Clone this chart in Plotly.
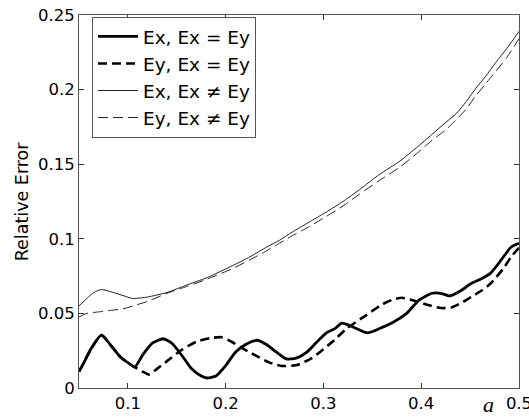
import plotly.graph_objects as go

# Ex, Ex = Ey
x_ex_eq = [0.05, 0.055, 0.062, 0.073, 0.082, 0.092, 0.1, 0.107, 0.115, 0.125, 0.136, 0.145,
           0.155, 0.165, 0.175, 0.181, 0.19, 0.2, 0.21, 0.22, 0.232, 0.242, 0.252, 0.262,
           0.272, 0.283, 0.292, 0.303, 0.312, 0.319, 0.33, 0.345, 0.358, 0.37, 0.385, 0.398,
           0.411, 0.42, 0.429, 0.44, 0.451, 0.461, 0.471, 0.482, 0.492, 0.5]
y_ex_eq = [0.011, 0.017, 0.026, 0.0355, 0.029, 0.021, 0.017, 0.014, 0.022, 0.03, 0.033, 0.03,
           0.022, 0.013, 0.008, 0.0067, 0.008, 0.015, 0.024, 0.029, 0.032, 0.029, 0.024, 0.0195,
           0.02, 0.024, 0.03, 0.037, 0.04, 0.0435, 0.041, 0.037, 0.04, 0.0435, 0.05, 0.059,
           0.0635, 0.0635, 0.0617, 0.065, 0.07, 0.073, 0.077, 0.086, 0.0945, 0.097]

# Ey, Ex = Ey
x_ey_eq = [0.05, 0.055, 0.062, 0.073, 0.082, 0.092, 0.1, 0.107, 0.115, 0.122, 0.13, 0.14,
           0.155, 0.17, 0.185, 0.196, 0.206, 0.216, 0.23, 0.245, 0.257, 0.273, 0.288, 0.3,
           0.311, 0.324, 0.342, 0.359, 0.37, 0.38, 0.393, 0.405, 0.42, 0.431, 0.441, 0.451,
           0.461, 0.471, 0.485, 0.492, 0.5]
y_ey_eq = [0.011, 0.017, 0.026, 0.0355, 0.029, 0.021, 0.017, 0.014, 0.011, 0.009, 0.013, 0.018,
           0.0255, 0.031, 0.0335, 0.034, 0.031, 0.027, 0.022, 0.017, 0.0148, 0.0154, 0.02, 0.026,
           0.032, 0.04, 0.048, 0.0556, 0.059, 0.0605, 0.0585, 0.056, 0.0536, 0.054, 0.057, 0.061,
           0.065, 0.07, 0.081, 0.088, 0.094]

# Ex, Ex != Ey
x_ex_ne = [0.05, 0.058, 0.065, 0.073, 0.085, 0.095, 0.105, 0.12, 0.14, 0.16, 0.181, 0.207,
           0.225, 0.242, 0.255, 0.268, 0.285, 0.303, 0.32, 0.337, 0.357, 0.378, 0.395, 0.411,
           0.425, 0.436, 0.446, 0.456, 0.466, 0.476, 0.488, 0.5]
y_ex_ne = [0.055, 0.06, 0.064, 0.066, 0.064, 0.062, 0.06, 0.061, 0.064, 0.069, 0.074, 0.082,
           0.088, 0.0945, 0.099, 0.1045, 0.111, 0.118, 0.125, 0.133, 0.143, 0.152, 0.161, 0.17,
           0.178, 0.184, 0.192, 0.201, 0.209, 0.218, 0.228, 0.239]

# Ey, Ex != Ey
x_ey_ne = [0.05, 0.058, 0.07, 0.082, 0.095, 0.105, 0.12, 0.14, 0.16, 0.181, 0.207, 0.225,
           0.242, 0.255, 0.268, 0.285, 0.303, 0.32, 0.337, 0.357, 0.378, 0.395, 0.411, 0.425,
           0.436, 0.446, 0.456, 0.466, 0.476, 0.488, 0.5]
y_ey_ne = [0.0476, 0.05, 0.051, 0.052, 0.053, 0.055, 0.058, 0.0635, 0.068, 0.073, 0.08, 0.086,
           0.092, 0.097, 0.102, 0.108, 0.115, 0.122, 0.13, 0.139, 0.148, 0.157, 0.166, 0.173,
           0.18, 0.187, 0.196, 0.204, 0.212, 0.222, 0.234]

x_ticks = [0.1, 0.2, 0.3, 0.4, 0.5]
x_ticklabels = ["0.1", "0.2", "0.3", "0.4", "0.5"]
y_ticks = [0, 0.05, 0.1, 0.15, 0.2, 0.25]
y_ticklabels = ["0", "0.05", "0.1", "0.15", "0.2", "0.25"]

FONT = "DejaVu Sans"

fig = go.Figure()
fig.add_trace(go.Scatter(x=x_ex_eq, y=y_ex_eq, mode="lines", name="Ex, Ex = Ey",
                         line=dict(color="black", width=2.8, shape="spline", smoothing=0.6)))
fig.add_trace(go.Scatter(x=x_ey_eq, y=y_ey_eq, mode="lines", name="Ey, Ex = Ey",
                         line=dict(color="black", width=2.6, dash="9px,5px", shape="spline", smoothing=0.6)))
fig.add_trace(go.Scatter(x=x_ex_ne, y=y_ex_ne, mode="lines", name="Ex, Ex \u2260 Ey",
                         line=dict(color="#222222", width=1, shape="spline", smoothing=0.6)))
fig.add_trace(go.Scatter(x=x_ey_ne, y=y_ey_ne, mode="lines", name="Ey, Ex \u2260 Ey",
                         line=dict(color="#222222", width=1, dash="10px,5px", shape="spline", smoothing=0.6)))

axis_common = dict(
    showgrid=False, zeroline=False, showline=True, linecolor="#555555", linewidth=1,
    mirror="ticks", ticks="inside", ticklen=5, tickcolor="#333333",
    tickfont=dict(family=FONT, size=16.5, color="black"),
    ticklabeloverflow="allow", automargin=False,
)

fig.update_layout(
    width=529, height=417,
    margin=dict(l=79, r=10, t=15, b=29, autoexpand=False),
    paper_bgcolor="white", plot_bgcolor="white",
    font=dict(family=FONT, color="black"),
    xaxis=dict(range=[0.05, 0.5], tickvals=x_ticks, ticktext=x_ticklabels, **axis_common),
    yaxis=dict(range=[0, 0.25], tickvals=y_ticks, ticktext=y_ticklabels, **axis_common),
    legend=dict(x=0.0295, y=0.995, xanchor="left", yanchor="top",
                bordercolor="#555555", borderwidth=1, bgcolor="white",
                font=dict(family=FONT, size=18.5, color="black"),
                itemwidth=40, tracegroupgap=0),
    showlegend=True,
)

fig.add_annotation(text="Relative Error", xref="paper", yref="paper",
                   x=-0.13, y=0.5, xanchor="center", yanchor="middle",
                   showarrow=False, textangle=-90,
                   font=dict(family=FONT, size=17.5, color="black"))
fig.add_annotation(text="<i>a</i>", xref="paper", yref="paper",
                   x=0.93, y=-0.045, xanchor="center", yanchor="middle",
                   showarrow=False,
                   font=dict(family="Liberation Serif", size=22, color="black"))

fig.write_html("out.html")
